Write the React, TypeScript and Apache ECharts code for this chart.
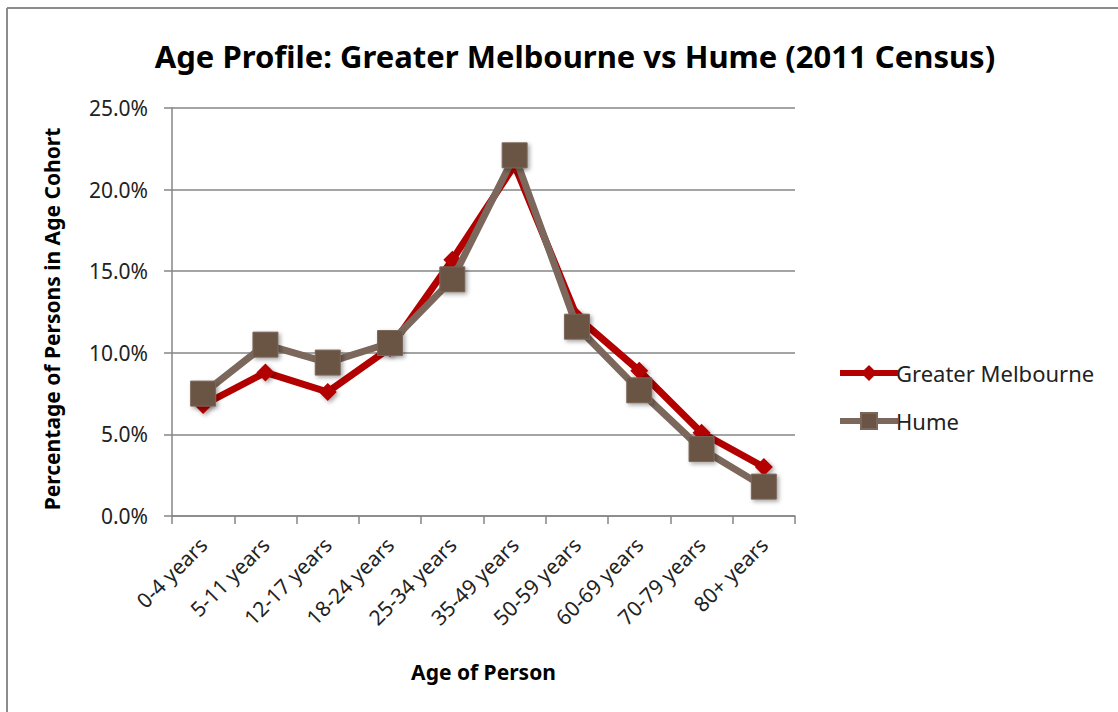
import React, { useEffect, useRef } from "react";
import * as echarts from "echarts";

const categories = ["0-4 years", "5-11 years", "12-17 years", "18-24 years", "25-34 years", "35-49 years", "50-59 years", "60-69 years", "70-79 years", "80+ years"];
const greaterMelbourne = [6.8, 8.8, 7.6, 10.3, 15.7, 21.5, 12.2, 8.9, 5.1, 3.0];
const hume = [7.5, 10.5, 9.4, 10.6, 14.5, 22.1, 11.6, 7.7, 4.1, 1.8];

const FONT = "Noto Sans";

export default function App() {
  const ref = useRef<HTMLDivElement>(null);
  useEffect(() => {
    document.body.style.margin = "0";
    const chart = echarts.init(ref.current!, null, { renderer: "svg" });
    chart.setOption({
      animation: false,
      backgroundColor: "#ffffff",
      title: {
        text: "Age Profile: Greater Melbourne vs Hume (2011 Census)",
        left: 570,
        top: 35,
        textAlign: "center",
        textStyle: { fontFamily: FONT, fontSize: 31, fontWeight: "bold", color: "#000" },
      },
      graphic: [
        { type: "line", shape: { x1: 7, y1: 8, x2: 1118, y2: 8 }, style: { stroke: "#8c8c8c", lineWidth: 2 } },
        { type: "line", shape: { x1: 7, y1: 8, x2: 7, y2: 712 }, style: { stroke: "#8c8c8c", lineWidth: 2 } },
      ],
      legend: {
        orient: "vertical",
        left: 832,
        top: 357,
        itemWidth: 58,
        itemHeight: 20,
        itemGap: 26,
        lineStyle: { width: 6 },
        textStyle: { fontFamily: FONT, fontSize: 22, color: "#222", padding: [0, 0, 0, -7] },
        data: ["Greater Melbourne", "Hume"],
      },
      grid: { left: 172, top: 108, right: 323, bottom: 196 },
      xAxis: {
        type: "category",
        data: categories,
        boundaryGap: true,
        name: "Age of Person",
        nameLocation: "middle",
        nameGap: 145,
        nameTextStyle: { fontFamily: FONT, fontSize: 21, fontWeight: "bold", color: "#000" },
        axisLine: { lineStyle: { color: "#868686", width: 1.5 } },
        axisTick: { show: true, length: 8, alignWithLabel: false, lineStyle: { color: "#868686", width: 1.5 } },
        axisLabel: {
          rotate: 45,
          interval: 0,
          fontFamily: FONT,
          fontSize: 21,
          color: "#222",
          margin: 25,
        },
      },
      yAxis: {
        type: "value",
        min: 0,
        max: 25,
        interval: 5,
        name: "Percentage of Persons in Age Cohort",
        nameLocation: "middle",
        nameGap: 110,
        nameTextStyle: { fontFamily: FONT, fontSize: 21, fontWeight: "bold", color: "#000", padding: [0, 14, 0, 0] },
        axisLine: { show: true, lineStyle: { color: "#868686", width: 1.5 } },
        axisTick: { show: true, length: 8, lineStyle: { color: "#868686", width: 1.5 } },
        splitLine: { lineStyle: { color: "#868686", width: 1.5 } },
        axisLabel: {
          fontFamily: FONT,
          fontSize: 21,
          color: "#222",
          margin: 24,
          formatter: (v: number) => v.toFixed(1) + "%",
        },
      },
      series: [
        {
          name: "Greater Melbourne",
          type: "line",
          data: greaterMelbourne,
          symbol: "diamond",
          symbolSize: 18,
          lineStyle: { color: "#b30000", width: 7 },
          itemStyle: { color: "#b30000", shadowBlur: 4, shadowColor: "rgba(0,0,0,0.35)", shadowOffsetX: 2, shadowOffsetY: 2 },
          z: 2,
        },
        {
          name: "Hume",
          type: "line",
          data: hume,
          symbol: "rect",
          symbolSize: 25,
          lineStyle: { color: "#7b675b", width: 7 },
          itemStyle: {
            color: "#6b5444",
            borderColor: "#7b675b",
            borderWidth: 1,
            shadowBlur: 4,
            shadowColor: "rgba(0,0,0,0.35)",
            shadowOffsetX: 2,
            shadowOffsetY: 2,
          },
          z: 3,
        },
      ],
    });
    return () => chart.dispose();
  }, []);
  return <div ref={ref} style={{ width: 1118, height: 712 }} />;
}
